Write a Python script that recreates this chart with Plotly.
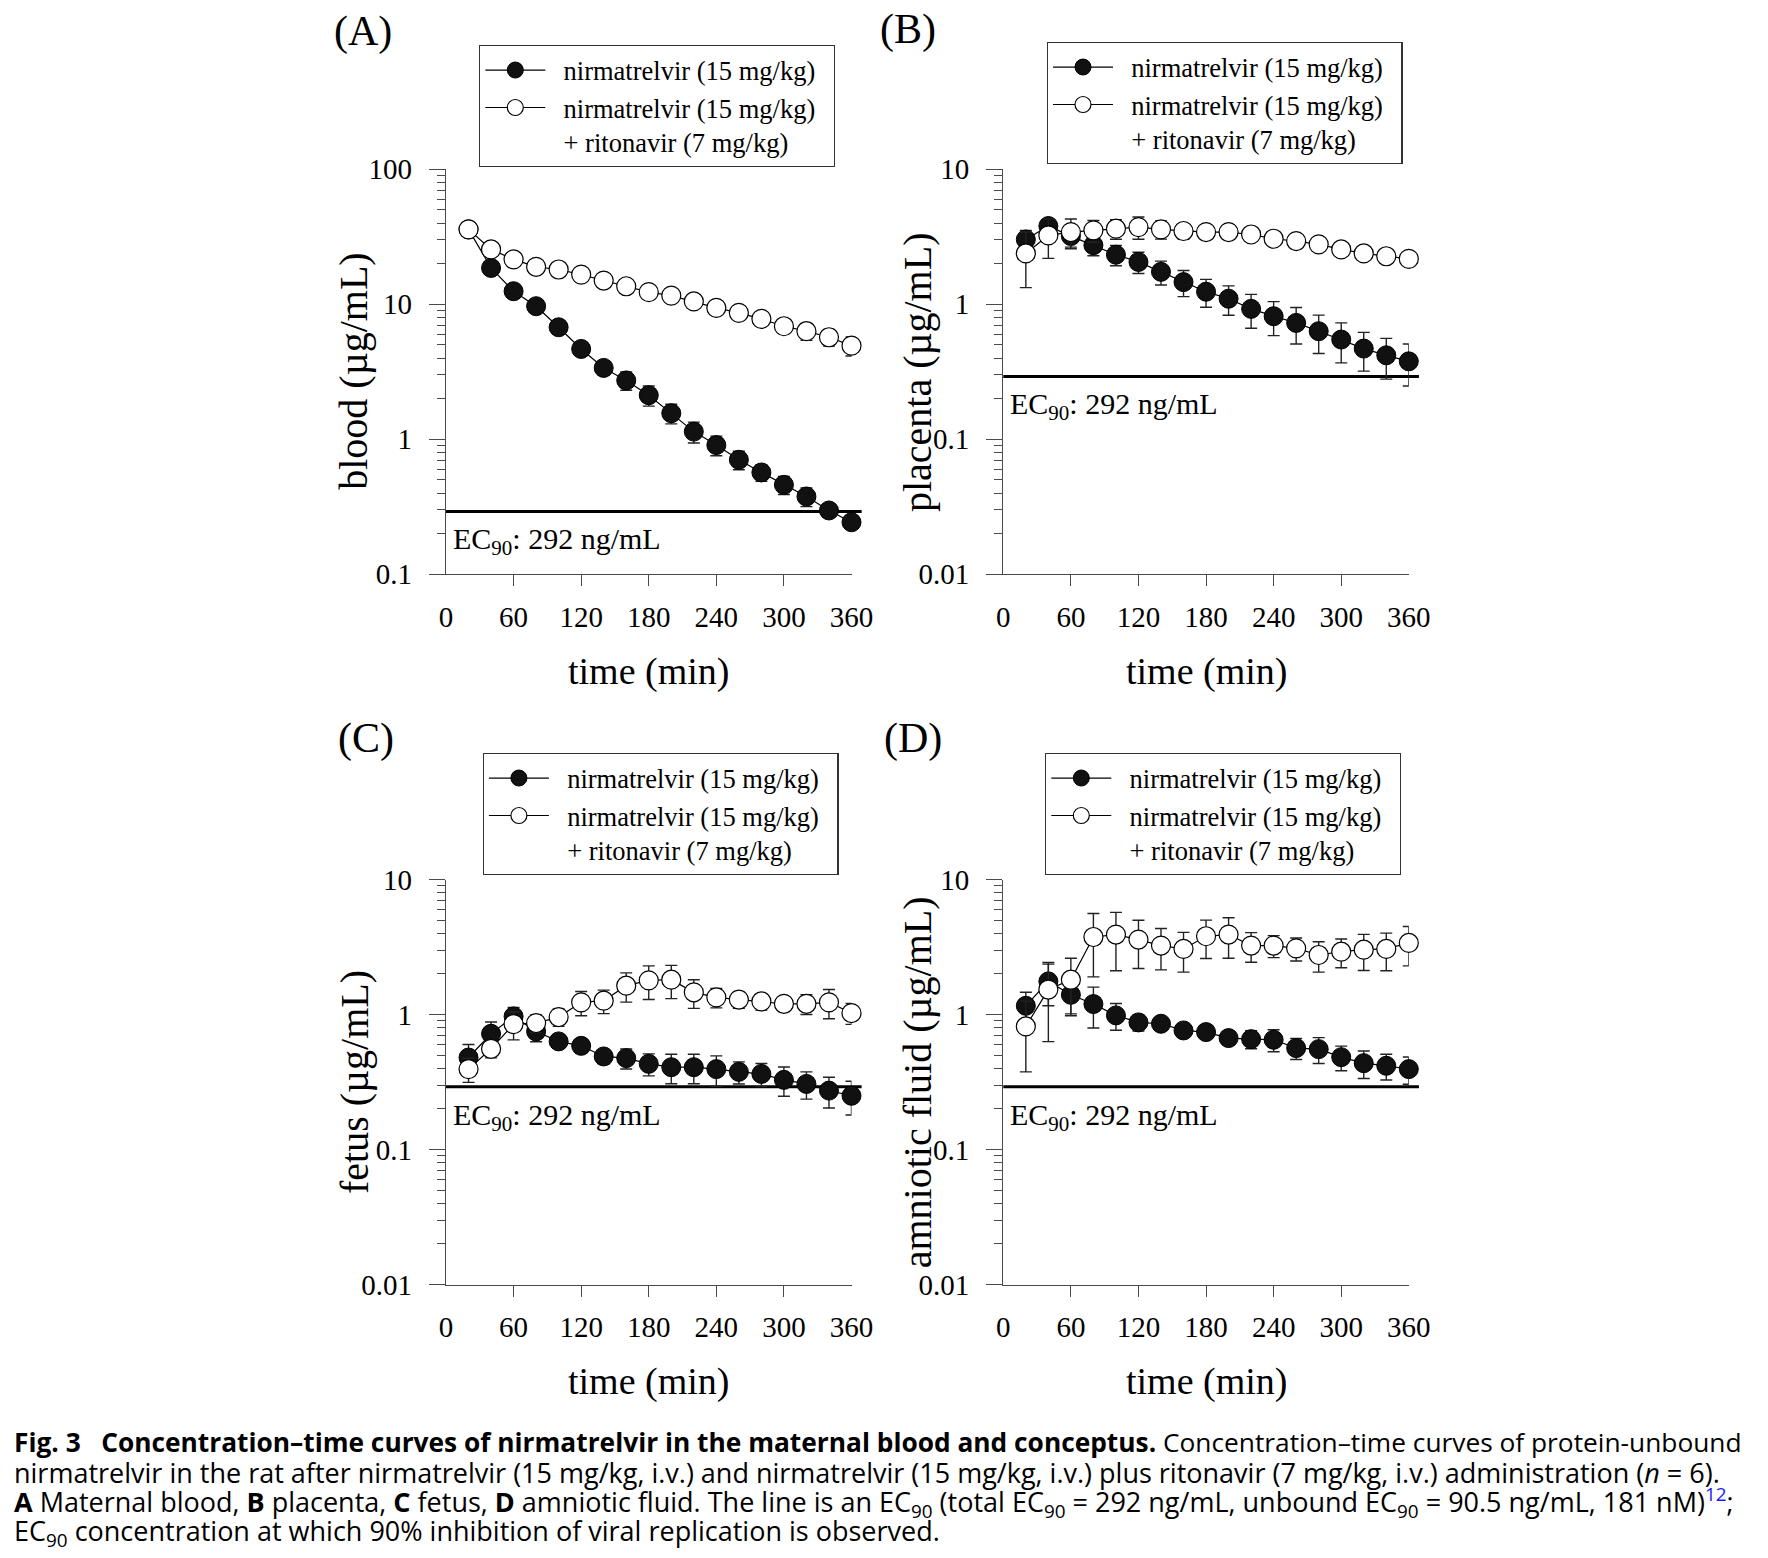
import math
import plotly.graph_objects as go

# ---------------- data (µg/mL, mean and SD, n = 6) ----------------
time_min = [20, 40, 60, 80, 100, 120, 140, 160, 180, 200, 220, 240, 260, 280, 300, 320, 340, 360]

blood_nirmatrelvir = [35.9, 18.6, 12.5, 9.68, 6.76, 4.67, 3.38, 2.73, 2.12, 1.56, 1.14, 0.906, 0.705, 0.568, 0.460, 0.377, 0.297, 0.243]
blood_nirmatrelvir_sd = [1.5, 0.8, 0.5, 0.4, 0.3, 0.3, 0.4, 0.42, 0.36, 0.26, 0.2, 0.15, 0.11, 0.08, 0.07, 0.06, 0.03, 0.02]
blood_ritonavir = [35.9, 25.5, 21.5, 18.95, 18.1, 16.6, 15.0, 13.6, 12.3, 11.6, 10.5, 9.41, 8.64, 7.8, 6.88, 6.32, 5.70, 4.94]
blood_ritonavir_sd = [1.5, 1.0, 0.8, 0.7, 0.6, 0.6, 0.5, 0.5, 0.45, 0.4, 0.4, 0.35, 0.35, 0.35, 0.7, 0.9, 0.8, 0.8]

placenta_nirmatrelvir = [3.02, 3.80, 3.2, 2.74, 2.33, 2.06, 1.74, 1.46, 1.24, 1.10, 0.925, 0.816, 0.728, 0.632, 0.548, 0.470, 0.419, 0.378]
placenta_nirmatrelvir_sd = [0.5, 0.4, 0.55, 0.45, 0.4, 0.37, 0.35, 0.32, 0.29, 0.27, 0.26, 0.23, 0.22, 0.2, 0.18, 0.15, 0.14, 0.13]
placenta_ritonavir = [2.38, 3.24, 3.43, 3.53, 3.63, 3.73, 3.59, 3.49, 3.43, 3.43, 3.29, 3.06, 2.94, 2.78, 2.55, 2.38, 2.27, 2.17]
placenta_ritonavir_sd = [1.05, 1.05, 0.85, 0.65, 0.6, 0.7, 0.55, 0.45, 0.35, 0.3, 0.25, 0.2, 0.2, 0.2, 0.2, 0.15, 0.15, 0.15]

fetus_nirmatrelvir = [0.480, 0.720, 0.968, 0.749, 0.632, 0.586, 0.489, 0.475, 0.431, 0.407, 0.407, 0.394, 0.376, 0.363, 0.328, 0.306, 0.273, 0.250]
fetus_nirmatrelvir_sd = [0.12, 0.16, 0.16, 0.12, 0.07, 0.07, 0.06, 0.08, 0.08, 0.1, 0.1, 0.1, 0.07, 0.07, 0.08, 0.07, 0.07, 0.07]
fetus_ritonavir = [0.394, 0.557, 0.849, 0.864, 0.957, 1.23, 1.265, 1.635, 1.79, 1.81, 1.46, 1.34, 1.29, 1.25, 1.20, 1.20, 1.23, 1.025]
fetus_ritonavir_sd = [0.08, 0.08, 0.2, 0.13, 0.14, 0.25, 0.25, 0.4, 0.5, 0.5, 0.35, 0.22, 0.18, 0.17, 0.15, 0.2, 0.3, 0.18]

amniotic_nirmatrelvir = [1.16, 1.76, 1.40, 1.195, 0.985, 0.874, 0.854, 0.762, 0.741, 0.669, 0.657, 0.650, 0.564, 0.554, 0.483, 0.436, 0.417, 0.394]
amniotic_nirmatrelvir_sd = [0.3, 0.6, 0.42, 0.4, 0.22, 0.12, 0.08, 0.05, 0.05, 0.07, 0.1, 0.12, 0.1, 0.12, 0.1, 0.1, 0.09, 0.09]
amniotic_ritonavir = [0.816, 1.53, 1.81, 3.75, 3.91, 3.59, 3.24, 3.06, 3.80, 3.91, 3.24, 3.24, 3.09, 2.76, 2.92, 3.02, 3.06, 3.39]
amniotic_ritonavir_sd = [0.44, 0.9, 0.8, 1.85, 1.8, 1.4, 1.1, 1.0, 1.2, 1.3, 0.8, 0.6, 0.6, 0.7, 0.7, 0.9, 0.95, 1.1]

ec90_ug_ml = 0.292

x_ticks = [0, 60, 120, 180, 240, 300, 360]
x_tickmarks = [60, 120, 180, 240, 300]
y_ticks_blood = [0.1, 1, 10, 100]
y_ticklabels_blood = ["0.1", "1", "10", "100"]
y_ticks_other = [0.01, 0.1, 1, 10]
y_ticklabels_other = ["0.01", "0.1", "1", "10"]

nb = "\u00a0"
name_nir = nb * 2 + "nirmatrelvir (15 mg/kg)" + nb * 2
name_rit = nb * 2 + "nirmatrelvir (15 mg/kg)" + nb * 2 + "<br>" + nb * 2 + "+ ritonavir (7 mg/kg)"

panels = [
    dict(label="(A)", ytitle="blood (µg/mL)", nir=blood_nirmatrelvir, nir_sd=blood_nirmatrelvir_sd,
         rit=blood_ritonavir, rit_sd=blood_ritonavir_sd, yticks=y_ticks_blood, ylabels=y_ticklabels_blood),
    dict(label="(B)", ytitle="placenta (µg/mL)", nir=placenta_nirmatrelvir, nir_sd=placenta_nirmatrelvir_sd,
         rit=placenta_ritonavir, rit_sd=placenta_ritonavir_sd, yticks=y_ticks_other, ylabels=y_ticklabels_other),
    dict(label="(C)", ytitle="fetus (µg/mL)", nir=fetus_nirmatrelvir, nir_sd=fetus_nirmatrelvir_sd,
         rit=fetus_ritonavir, rit_sd=fetus_ritonavir_sd, yticks=y_ticks_other, ylabels=y_ticklabels_other),
    dict(label="(D)", ytitle="amniotic fluid (µg/mL)", nir=amniotic_nirmatrelvir, nir_sd=amniotic_nirmatrelvir_sd,
         rit=amniotic_ritonavir, rit_sd=amniotic_ritonavir_sd, yticks=y_ticks_other, ylabels=y_ticklabels_other),
]

# ---------------- layout geometry (pixel targets -> paper fractions) ----------------
W, H = 1768, 1558
OFF = 8  # page body margin


def fx(px):
    return (px - OFF) / W


def fy(py):
    return 1 - (py - OFF) / H


SERIF = "Liberation Serif, Times New Roman, serif"
AXCOL = "#4a4a4a"

x_px = [(446, 851.5), (1003.3, 1408.8), (446, 851.5), (1003.3, 1408.8)]
y_px = [(574.3, 169.3), (574.3, 169.3), (1284.5, 879.5), (1284.5, 879.5)]
legend_px = [(479, 45), (1046.7, 42), (482.6, 753), (1045, 753)]
label_px = [(363, 31), (908, 30), (366, 739), (913, 739)]
ytitle_shift = [-92, -86, -92, -86]

fig = go.Figure()
annotations = []
shapes = []

for i, p in enumerate(panels):
    n = i + 1
    sfx = "" if n == 1 else str(n)
    xa, ya = "x" + sfx, "y" + sfx
    leg = "legend" if n == 1 else "legend" + str(n)

    # EC90 line (slightly overrunning the end of the time axis, as in the original)
    shapes.append(dict(type="line", xref=xa + " domain", yref=ya, x0=0, x1=1.025,
                       y0=ec90_ug_ml, y1=ec90_ug_ml, line=dict(color="black", width=3), layer="below"))

    fig.add_trace(go.Scatter(
        x=time_min, y=p["nir"], name=name_nir, mode="lines+markers",
        line=dict(color="black", width=1.2),
        marker=dict(symbol="circle", size=19, color="#111111", line=dict(color="black", width=1)),
        error_y=dict(type="data", array=p["nir_sd"], visible=True, color="#222222", thickness=1.4, width=6),
        cliponaxis=False, xaxis=xa, yaxis=ya, legend=leg))
    fig.add_trace(go.Scatter(
        x=time_min, y=p["rit"], name=name_rit, mode="lines+markers",
        line=dict(color="black", width=1.2),
        marker=dict(symbol="circle", size=19, color="white", line=dict(color="black", width=1.2)),
        error_y=dict(type="data", array=p["rit_sd"], visible=True, color="#222222", thickness=1.4, width=6),
        cliponaxis=False, xaxis=xa, yaxis=ya, legend=leg))

    lo = math.log10(p["yticks"][0])
    hi = math.log10(p["yticks"][-1])
    minor_vals = [m * 10 ** e for e in range(int(round(lo)), int(round(hi))) for m in range(2, 10)]

    fig.update_layout({
        "xaxis" + sfx: dict(
            domain=[fx(x_px[i][0]), fx(x_px[i][1])], anchor=ya, range=[0, 360], automargin=False,
            tickvals=x_ticks, ticktext=[str(v) for v in x_ticks],
            ticks="outside", ticklen=11, tickwidth=1.3, tickcolor="rgba(0,0,0,0)",
            ticklabelstandoff=6,
            minor=dict(tickmode="array", tickvals=x_tickmarks, ticks="outside", ticklen=11,
                       tickwidth=1.3, tickcolor=AXCOL, showgrid=False),
            showline=True, linecolor=AXCOL, linewidth=1.3,
            showgrid=False, zeroline=False,
            tickfont=dict(family=SERIF, size=29, color="black"),
        ),
        "yaxis" + sfx: dict(
            domain=[fy(y_px[i][0]), fy(y_px[i][1])], anchor=xa, type="log", range=[lo, hi], automargin=False,
            tickvals=p["yticks"], ticktext=p["ylabels"],
            ticks="outside", ticklen=16, tickwidth=1.3, tickcolor=AXCOL,
            ticklabelstandoff=11,
            minor=dict(tickmode="array", tickvals=minor_vals, ticks="outside", ticklen=8,
                       tickwidth=1.3, tickcolor=AXCOL, showgrid=False),
            showline=True, linecolor=AXCOL, linewidth=1.3,
            showgrid=False, zeroline=False,
            tickfont=dict(family=SERIF, size=29, color="black"),
        ),
        leg: dict(
            x=fx(legend_px[i][0]), y=fy(legend_px[i][1]), xanchor="left", yanchor="top",
            xref="paper", yref="paper",
            bgcolor="white", bordercolor="#333333", borderwidth=1.3,
            font=dict(family=SERIF, size=26.5, color="black"),
            itemwidth=60, valign="top", tracegroupgap=2,
        ),
    })

    # panel label
    annotations.append(dict(text=p["label"], xref="paper", yref="paper",
                            x=fx(label_px[i][0]), y=fy(label_px[i][1]), xanchor="center", yanchor="middle",
                            showarrow=False, font=dict(family=SERIF, size=42, color="black")))
    # EC90 label
    annotations.append(dict(text="EC<sub>90</sub>: 292 ng/mL", xref=xa + " domain", yref=ya,
                            x=0.012, y=math.log10(ec90_ug_ml), xanchor="left", yanchor="top", yshift=-9,
                            showarrow=False, font=dict(family=SERIF, size=30, color="black")))
    # axis titles
    annotations.append(dict(text=p["ytitle"], xref=xa + " domain", yref=ya + " domain",
                            x=0, y=0.5, xshift=ytitle_shift[i], textangle=-90,
                            xanchor="center", yanchor="middle", showarrow=False,
                            font=dict(family=SERIF, size=40, color="black")))
    annotations.append(dict(text="time (min)", xref=xa + " domain", yref=ya + " domain",
                            x=0.5, y=0, yshift=-97, xanchor="center", yanchor="middle", showarrow=False,
                            font=dict(family=SERIF, size=38, color="black")))

# ---------------- caption ----------------
SANS = "Open Sans, Noto Sans, sans-serif"
caption_lines = [
    "<b>Fig. 3" + nb * 3 + "Concentration–time curves of nirmatrelvir in the maternal blood and conceptus.</b> "
    "Concentration–time curves of protein-unbound",
    "nirmatrelvir in the rat after nirmatrelvir (15" + nb + "mg/kg, i.v.) and nirmatrelvir (15" + nb +
    "mg/kg, i.v.) plus ritonavir (7" + nb + "mg/kg, i.v.) administration (<i>n</i>" + nb + "=" + nb + "6).",
    "<b>A</b> Maternal blood, <b>B</b> placenta, <b>C</b> fetus, <b>D</b> amniotic fluid. The line is an "
    "EC<sub>90</sub> (total EC<sub>90</sub>" + nb + "=" + nb + "292" + nb + "ng/mL, unbound EC<sub>90</sub>" + nb +
    "=" + nb + "90.5" + nb + "ng/mL, 181" + nb + "nM)<sup><span style='color:#1a1aff'>12</span></sup>;",
    "EC<sub>90</sub> concentration at which 90% inhibition of viral replication is observed.",
]
caption_y = [1442, 1472, 1502, 1532]
caption_size = [26.3, 27, 27, 27]
for line, yy, sz in zip(caption_lines, caption_y, caption_size):
    annotations.append(dict(text=line, xref="paper", yref="paper", x=fx(12), y=fy(yy),
                            xanchor="left", yanchor="middle", showarrow=False, align="left",
                            font=dict(family=SANS, size=sz, color="black")))

fig.update_layout(
    width=W, height=H, margin=dict(l=0, r=0, t=0, b=0, autoexpand=False),
    paper_bgcolor="white", plot_bgcolor="white",
    annotations=annotations, shapes=shapes, showlegend=True,
)

fig.write_html("out.html")
